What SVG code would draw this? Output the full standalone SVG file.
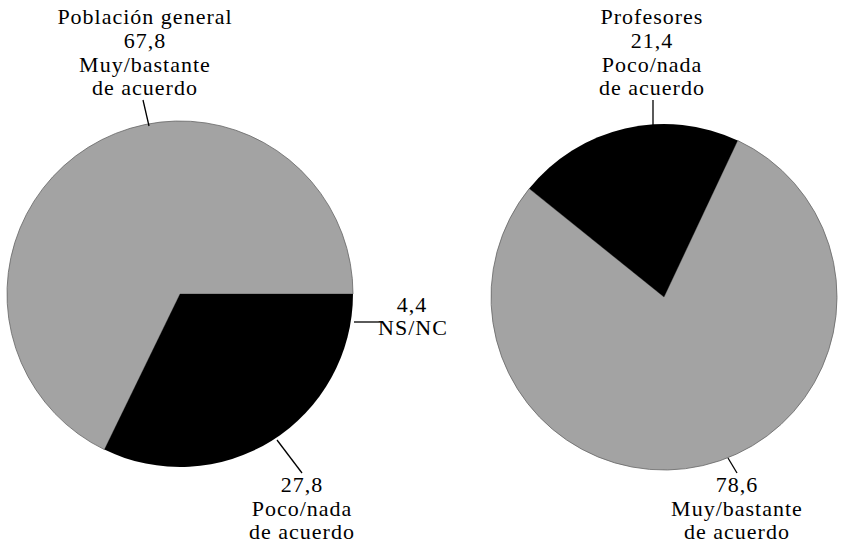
<svg xmlns="http://www.w3.org/2000/svg" width="841" height="544" viewBox="0 0 841 544">
<style>
text{font-family:"Liberation Serif","Times New Roman",serif;font-size:22px;fill:#000;text-anchor:middle;letter-spacing:1px}
.gray{fill:#a3a3a3;stroke:#666;stroke-width:0.8}
.black{fill:#000}
.lead{stroke:#000;stroke-width:1.3;fill:none}
</style>
<rect width="841" height="544" fill="#fff"/>
<g id="pie-poblacion">
<path class="gray" d="M180,294 L104.4,449.6 A173,173 0 1 1 353,294 Z"/>
<path class="black" d="M180,294 L353,294 A173,173 0 0 1 104.4,449.6 Z"/>
</g>
<g id="pie-profesores">
<path class="gray" d="M664,297 L737.7,140.5 A173,173 0 1 1 529.2,188.6 Z"/>
<path class="black" d="M664,297 L529.2,188.6 A173,173 0 0 1 737.7,140.5 Z"/>
</g>
<g id="connectors">
<line class="lead" x1="143" y1="100" x2="149" y2="126"/>
<line class="lead" x1="277" y1="440" x2="302" y2="473"/>
<line class="lead" x1="354" y1="322" x2="381" y2="322"/>
<line class="lead" x1="653" y1="100" x2="653" y2="126"/>
<line class="lead" x1="728" y1="458" x2="737" y2="473"/>
</g>
<g id="label-poblacion">
<text x="145" y="24">Población general</text>
<text x="145" y="48">67,8</text>
<text x="145" y="72">Muy/bastante</text>
<text x="145" y="95">de acuerdo</text>
</g>
<g id="label-poco-poblacion">
<text x="302" y="492">27,8</text>
<text x="302" y="516">Poco/nada</text>
<text x="302" y="539">de acuerdo</text>
</g>
<g id="label-nsnc">
<text x="412" y="312">4,4</text>
<text x="413" y="335">NS/NC</text>
</g>
<g id="label-profesores">
<text x="652" y="24">Profesores</text>
<text x="652" y="48">21,4</text>
<text x="652" y="72">Poco/nada</text>
<text x="652" y="95">de acuerdo</text>
</g>
<g id="label-muy-profesores">
<text x="737" y="492">78,6</text>
<text x="737" y="516">Muy/bastante</text>
<text x="737" y="539">de acuerdo</text>
</g>
</svg>
